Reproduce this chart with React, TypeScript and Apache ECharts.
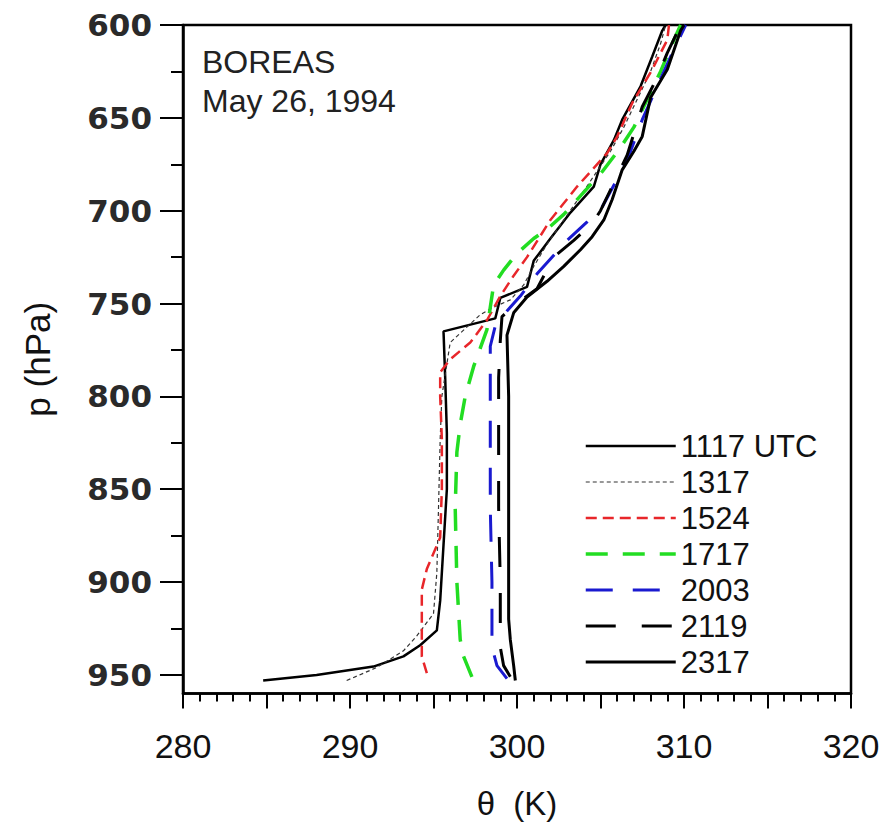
import React, { useEffect, useRef } from "react";
import * as echarts from "echarts";

// potential temperature (K), pressure (hPa) pairs for each sounding
const s1117: [number, number][] = [
  [284.8, 953], [288.0, 950], [291.4, 945.5], [293.2, 940], [294.2, 934], [295.2, 926],
  [295.4, 910], [295.6, 880], [295.8, 850], [295.8, 820], [295.7, 790], [295.6, 765],
  [298.7, 758], [299.0, 747], [300.6, 741], [301.0, 727], [302.0, 715], [303.2, 701],
  [304.6, 687], [305.0, 675], [305.8, 662], [306.3, 651], [307.4, 633], [308.1, 617],
  [308.7, 603], [308.9, 600],
];
const s1317: [number, number][] = [
  [289.8, 953], [291.6, 946], [293.2, 937], [294.0, 929], [295.0, 917], [295.2, 895],
  [295.3, 860], [295.4, 823], [295.5, 800], [296.0, 771], [297.8, 756], [298.6, 752],
  [299.6, 748], [300.4, 740], [301.0, 730], [301.8, 718], [302.8, 705], [303.8, 692],
  [304.7, 680], [305.6, 668], [306.4, 655], [307.2, 640], [308.0, 625], [308.6, 610],
  [308.9, 600],
];
const s1524: [number, number][] = [
  [294.6, 949], [294.3, 940], [294.3, 931], [294.3, 904], [294.6, 893], [295.4, 876],
  [295.5, 850], [295.5, 823], [295.4, 800], [295.4, 787], [296.0, 780], [297.2, 771],
  [298.2, 759], [299.0, 746], [299.8, 735], [300.6, 725], [301.3, 715], [302.0, 705],
  [302.8, 696], [303.6, 687], [304.5, 678], [305.4, 669], [306.0, 660], [306.9, 642],
  [308.1, 624], [308.6, 615], [309.0, 608], [309.1, 600],
];
const s1717: [number, number][] = [
  [297.3, 951], [296.8, 940], [296.6, 931], [296.4, 900], [296.3, 860], [296.4, 830],
  [296.6, 815], [296.9, 800], [297.4, 784], [298.2, 764], [298.4, 752], [298.6, 740],
  [299.2, 732], [300.0, 723], [301.0, 715], [301.8, 710], [302.8, 702], [303.6, 694],
  [305.1, 679], [306.2, 666], [307.0, 655], [307.8, 640], [308.6, 625], [309.3, 610],
  [309.8, 600],
];
const s2003: [number, number][] = [
  [299.4, 952], [298.8, 945], [298.5, 935], [298.5, 900], [298.4, 860], [298.4, 820],
  [298.4, 790], [298.4, 773], [298.7, 762], [299.4, 754], [300.2, 746], [301.2, 734],
  [302.0, 726], [303.0, 716], [304.2, 706], [305.1, 698], [306.0, 683], [306.8, 668],
  [307.5, 651], [308.4, 633], [309.3, 615], [310.1, 600],
];
const s2119: [number, number][] = [
  [299.6, 951], [299.2, 945], [299.0, 935], [299.0, 900], [298.9, 860], [298.9, 820],
  [298.9, 790], [299.0, 770], [299.1, 757], [300.0, 750], [301.2, 742], [302.2, 725],
  [303.4, 716], [304.5, 707], [305.0, 700], [305.8, 685], [306.6, 670], [307.5, 644],
  [308.3, 630], [309.0, 615], [309.8, 600],
];
const s2317: [number, number][] = [
  [299.9, 953], [299.8, 945], [299.6, 931], [299.5, 920], [299.5, 880], [299.5, 840],
  [299.5, 800], [299.4, 767], [299.8, 755], [300.6, 746.5], [301.8, 738], [302.8, 730],
  [303.8, 721], [304.5, 714], [305.2, 705], [305.7, 694], [306.3, 678], [307.0, 668],
  [307.5, 660], [308.0, 639], [309.0, 624], [309.8, 603], [310.0, 600],
];

const seriesNames = ["1117 UTC", "1317", "1524", "1717", "2003", "2119", "2317"];
const yMajorTicks = [600, 650, 700, 750, 800, 850, 900, 950];
const yMinorTicks = [625, 675, 725, 775, 825, 875, 925];
const annotationLines = ["BOREAS", "May 26, 1994"];

export default function App() {
  const ref = useRef<HTMLDivElement>(null);
  useEffect(() => {
    if (!ref.current) return;
    const chart = echarts.init(ref.current, undefined, { renderer: "svg" });
    const sans = "Liberation Sans, Arial, sans-serif";
    const mk = (name: string, data: [number, number][], color: string, width: number, type: any) => ({
      name,
      type: "line",
      data,
      symbol: "none",
      showSymbol: false,
      lineStyle: { color, width, type },
      itemStyle: { color },
      z: 3,
    });
    chart.setOption({
      animation: false,
      backgroundColor: "#fff",
      grid: {
        left: 183,
        right: 35,
        top: 25,
        bottom: 132.5,
        show: true,
        borderColor: "#000",
        borderWidth: 2.5,
        backgroundColor: "transparent",
      },
      legend: {
        data: seriesNames,
        orient: "vertical",
        left: 584,
        top: 428,
        padding: 0,
        itemGap: 0,
        itemWidth: 90,
        itemHeight: 14,
        itemStyle: { opacity: 0 },
        lineStyle: { width: "inherit", type: "inherit", color: "inherit" },
        textStyle: { fontSize: 31, fontFamily: sans, color: "#111", lineHeight: 36 },
        selectedMode: false,
      },
      xAxis: {
        type: "value",
        min: 280,
        max: 320,
        interval: 5,
        name: "θ  (K)",
        nameLocation: "middle",
        nameGap: 93,
        nameTextStyle: { fontSize: 33, fontFamily: sans, color: "#111" },
        axisLine: { lineStyle: { color: "#000", width: 2.5 } },
        axisTick: { length: 15, lineStyle: { color: "#000", width: 2 } },
        minorTick: { show: true, splitNumber: 5, length: 8, lineStyle: { color: "#000", width: 2 } },
        axisLabel: {
          margin: 35,
          fontSize: 34,
          fontFamily: sans,
          color: "#111",
          formatter: (v: number) => (v % 10 === 0 ? String(v) : ""),
        },
        splitLine: { show: false },
      },
      yAxis: [
        {
          type: "value",
          inverse: true,
          min: 600,
          max: 960,
          interval: 50,
          name: "p (hPa)",
          nameLocation: "middle",
          nameGap: 128,
          nameRotate: 90,
          nameTextStyle: { fontSize: 35, fontFamily: sans, color: "#111" },
          axisLine: { lineStyle: { color: "#000", width: 2.5 } },
          axisTick: { length: 23, customValues: yMajorTicks, lineStyle: { color: "#000", width: 2 } },
          axisLabel: {
            customValues: yMajorTicks,
            margin: 31,
            fontSize: 31,
            fontWeight: "bold",
            fontFamily: "DejaVu Sans, sans-serif",
            color: "#2a2a2a",
          },
          splitLine: { show: false },
        },
        {
          type: "value",
          inverse: true,
          min: 600,
          max: 960,
          interval: 50,
          position: "left",
          axisLine: { show: false },
          axisTick: { length: 12, customValues: yMinorTicks, lineStyle: { color: "#000", width: 2 } },
          axisLabel: { show: false },
          splitLine: { show: false },
        },
      ],
      graphic: annotationLines.map((t, i) => ({
        type: "text",
        left: 202,
        top: 46 + i * 39,
        style: { text: t, fontSize: 32, fontFamily: sans, fill: "#222" },
        z: 10,
      })),
      series: [
        mk(seriesNames[0], s1117, "#000", 2.5, "solid"),
        mk(seriesNames[1], s1317, "#333", 1.2, [4, 3]),
        mk(seriesNames[2], s1524, "#e8262a", 2.5, [11, 6]),
        mk(seriesNames[3], s1717, "#22dd22", 3.5, [22, 15]),
        mk(seriesNames[4], s2003, "#1a1ad0", 3, [27, 20]),
        mk(seriesNames[5], s2119, "#000", 3, [30, 26]),
        mk(seriesNames[6], s2317, "#000", 3, "solid"),
      ],
    });
    return () => chart.dispose();
  }, []);
  return (
    <div
      ref={ref}
      style={{ position: "fixed", left: 0, top: 0, width: 886, height: 826, background: "#fff" }}
    />
  );
}
